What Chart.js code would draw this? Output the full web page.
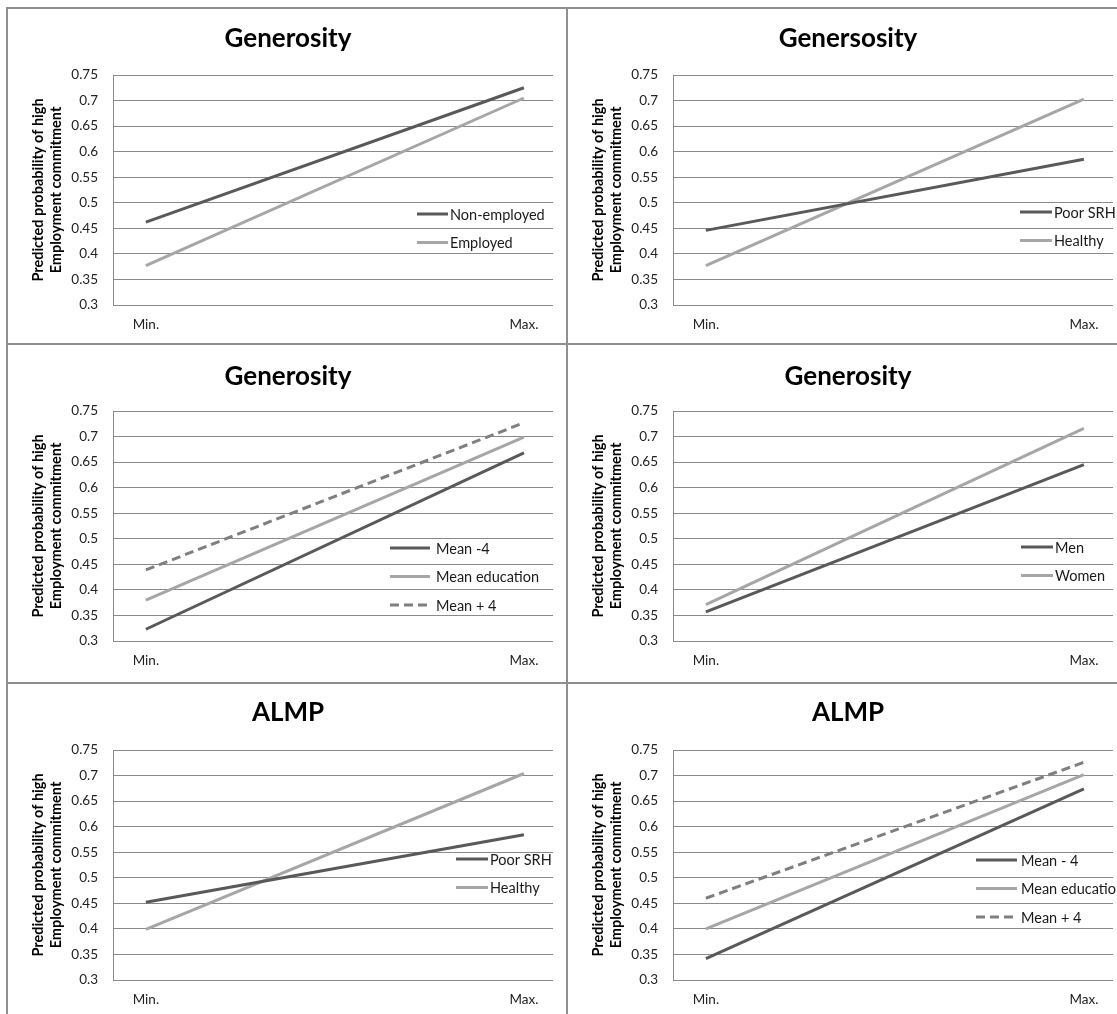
<!DOCTYPE html>
<html>
<head>
<meta charset="utf-8">
<script src="https://cdn.jsdelivr.net/npm/chart.js@4.4.1/dist/chart.umd.min.js"></script>
<style>
  html, body { margin: 0; padding: 0; background: #ffffff; width: 1117px; height: 1014px; overflow: hidden; }
  .panel { position: absolute; width: 560px; }
  .panel canvas { position: absolute; left: 0; top: 0; }
  .rule { position: absolute; background: #8f8f8f; }
</style>
</head>
<body>
<script>
// ---- data ----
const xLabels = ['Min.', 'Max.'];
const yTicks = [0.3, 0.35, 0.4, 0.45, 0.5, 0.55, 0.6, 0.65, 0.7, 0.75];
const yTitle = ['Predicted probability of high', 'Employment commitment'];
const titles = ['Generosity', 'Genersosity', 'Generosity', 'Generosity', 'ALMP', 'ALMP'];

const genNonEmployed = [0.462, 0.725];
const genEmployed = [0.377, 0.705];
const genPoorSRH = [0.446, 0.585];
const genHealthy = [0.377, 0.703];
const genEduMinus4 = [0.323, 0.668];
const genEduMean = [0.380, 0.699];
const genEduPlus4 = [0.439, 0.727];
const genMen = [0.357, 0.645];
const genWomen = [0.371, 0.716];
const almpPoorSRH = [0.452, 0.584];
const almpHealthy = [0.399, 0.704];
const almpEduMinus4 = [0.342, 0.674];
const almpEduMean = [0.400, 0.702];
const almpEduPlus4 = [0.460, 0.726];

// ---- styles ----
const DARK = '#595959', LIGHT = '#a6a6a6', DASH = '#7f7f7f';
const FONT = 'Lato, "Open Sans", sans-serif';

const panels = [
  { title: titles[0], series: [['Non-employed', genNonEmployed, DARK], ['Employed', genEmployed, LIGHT]],
    legend: { x: 410, y: 206, len: 31, gap: 2 }, titleY: 31 },
  { title: titles[1], series: [['Poor SRH', genPoorSRH, DARK], ['Healthy', genHealthy, LIGHT]],
    legend: { x: 453, y: 204, len: 32, gap: 2 }, titleY: 31 },
  { title: titles[2], series: [['Mean -4', genEduMinus4, DARK], ['Mean education', genEduMean, LIGHT], ['Mean + 4', genEduPlus4, DASH, true]],
    legend: { x: 383, y: 204, len: 40, gap: 6 }, titleY: 33 },
  { title: titles[3], series: [['Men', genMen, DARK], ['Women', genWomen, LIGHT]],
    legend: { x: 454, y: 203, len: 32, gap: 2 }, titleY: 33 },
  { title: titles[4], series: [['Poor SRH', almpPoorSRH, DARK], ['Healthy', almpHealthy, LIGHT]],
    legend: { x: 449, y: 176, len: 32, gap: 2 }, titleY: 30 },
  { title: titles[5], series: [['Mean - 4', almpEduMinus4, DARK], ['Mean education', almpEduMean, LIGHT], ['Mean + 4', almpEduPlus4, DASH, true]],
    legend: { x: 409, y: 177, len: 41, gap: 4 }, titleY: 30 }
];

const rowTops = [8, 344, 683];
const rowHeights = [336, 339, 340];
const colLefts = [7, 567];

const panelDecor = {
  id: 'panelDecor',
  afterDatasetsDraw(chart, args, opts) {
    const ctx = chart.ctx;
    ctx.save();
    // title
    ctx.font = 'bold 26px ' + FONT;
    ctx.fillStyle = '#000000';
    ctx.textAlign = 'center';
    ctx.textBaseline = 'middle';
    ctx.fillText(opts.title, 281, opts.titleY);
    // legend
    const lg = opts.legend;
    ctx.font = '14.5px ' + FONT;
    ctx.textAlign = 'left';
    chart.data.datasets.forEach((ds, i) => {
      const y = lg.y + i * 28.5;
      ctx.strokeStyle = ds.borderColor;
      ctx.lineWidth = 3;
      ctx.setLineDash(ds.borderDash || []);
      ctx.beginPath();
      ctx.moveTo(lg.x, y);
      ctx.lineTo(lg.x + lg.len, y);
      ctx.stroke();
      ctx.setLineDash([]);
      ctx.fillStyle = '#1a1a1a';
      ctx.fillText(ds.label, lg.x + lg.len + lg.gap, y + 1);
    });
    ctx.restore();
  }
};

// borders
function rule(l, t, w, h) {
  const d = document.createElement('div');
  d.className = 'rule';
  d.style.left = l + 'px'; d.style.top = t + 'px';
  d.style.width = w + 'px'; d.style.height = h + 'px';
  document.body.appendChild(d);
}

panels.forEach((p, idx) => {
  const row = Math.floor(idx / 2), col = idx % 2;
  const H = rowHeights[row];
  const div = document.createElement('div');
  div.className = 'panel';
  div.style.left = colLefts[col] + 'px';
  div.style.top = rowTops[row] + 'px';
  div.style.height = H + 'px';
  const cv = document.createElement('canvas');
  cv.width = 560; cv.height = H;
  cv.style.width = '560px'; cv.style.height = H + 'px';
  div.appendChild(cv);
  document.body.appendChild(div);

  const datasets = p.series.map(s => ({
    label: s[0],
    data: s[1].map((v, i) => ({ x: i, y: v })),
    borderColor: s[2],
    backgroundColor: s[2],
    borderWidth: 3,
    borderDash: s[3] ? [9, 5] : [],
    pointRadius: 0,
    tension: 0
  }));

  new Chart(cv, {
    type: 'line',
    data: { datasets },
    plugins: [panelDecor],
    options: {
      responsive: false,
      animation: false,
      events: [],
      layout: { padding: { left: 0, right: 14, top: 67, bottom: 0 } },
      plugins: {
        legend: { display: false },
        title: { display: false },
        tooltip: { enabled: false },
        panelDecor: { title: p.title, legend: p.legend, titleY: p.titleY }
      },
      scales: {
        x: {
          type: 'linear',
          min: -0.087,
          max: 1.077,
          afterBuildTicks: sc => { sc.ticks = xLabels.map((_, i) => ({ value: i })); },
          afterFit: sc => { sc.height = H - 297; },
          ticks: {
            callback: v => xLabels[v],
            font: { family: FONT, size: 13.5 },
            color: '#222222',
            padding: 12,
            maxRotation: 0,
            autoSkip: false
          },
          grid: { display: false, drawTicks: false },
          border: { display: false }
        },
        y: {
          min: 0.3,
          max: 0.75,
          afterBuildTicks: sc => { sc.ticks = yTicks.map(v => ({ value: v })); },
          afterFit: sc => { sc.width = 106; },
          ticks: {
            callback: v => String(+(+v).toFixed(2)),
            font: { family: FONT, size: 13.5 },
            color: '#222222',
            padding: 15
          },
          grid: { color: '#8a8a8a', lineWidth: 1, drawTicks: false },
          border: { display: true, color: '#8a8a8a', width: 1 },
          title: {
            display: true,
            text: yTitle,
            font: { family: FONT, size: 14.5, weight: 'bold', lineHeight: 1.2 },
            color: '#000000',
            padding: { top: 23, bottom: 0 }
          }
        }
      }
    }
  });
});

// panel frame lines
rule(7, 7, 1110, 2);      // top
rule(6, 7, 2, 1007);      // left
rule(566, 7, 2, 1007);    // middle vertical
rule(6, 343, 1111, 2);    // row divider 1
rule(6, 682, 1111, 2);    // row divider 2
</script>
</body>
</html>
